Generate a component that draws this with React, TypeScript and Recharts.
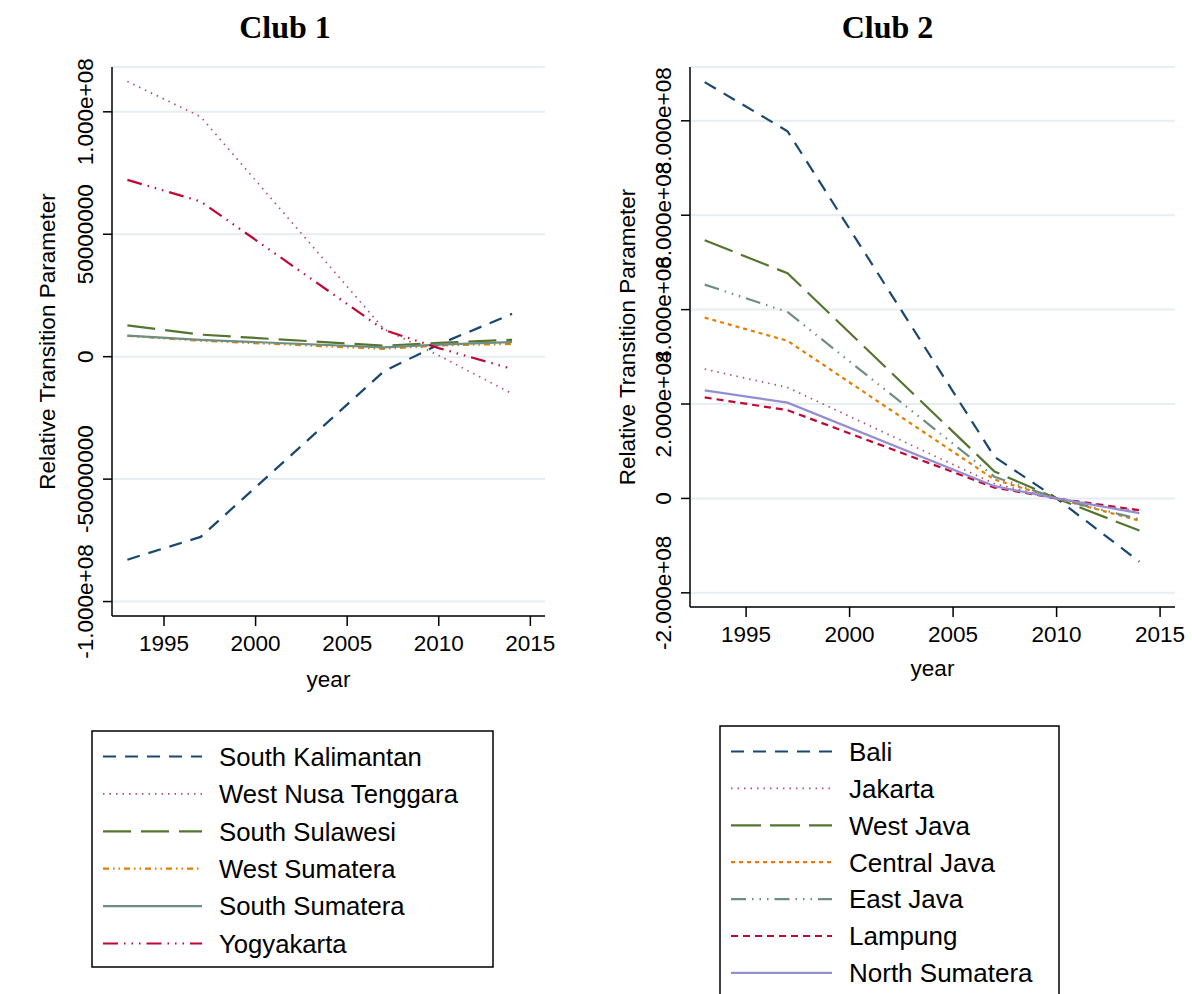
import { LineChart, Line, XAxis, YAxis, CartesianGrid } from "recharts";

const years = [1993, 1997, 2007, 2010, 2014];
const yearTicks = [1995, 2000, 2005, 2010, 2015];

// Club 1
const southKalimantan = [-82.9e6, -73.6e6, -6.0e6, 5.0e6, 17.5e6];
const westNusaTenggara = [112.4e6, 98.0e6, 11.3e6, 0.5e6, -15.1e6];
const southSulawesi = [12.8e6, 9.0e6, 4.5e6, 5.6e6, 6.9e6];
const westSumatera = [8.5e6, 6.5e6, 3.2e6, 4.6e6, 5.2e6];
const southSumatera = [8.6e6, 6.9e6, 3.8e6, 4.9e6, 6.0e6];
const yogyakarta = [72.2e6, 63.4e6, 11.0e6, 3.5e6, -5.0e6];
const club1Ticks = [-1e8, -5e7, 0, 5e7, 1e8];
const club1TickLabels = ["-1.000e+08", "-50000000", "0", "50000000", "1.000e+08"];

// Club 2
const bali = [882e6, 778e6, 88e6, 0, -134e6];
const jakarta = [274e6, 235e6, 31e6, 0, -27e6];
const westJava = [547e6, 477e6, 57e6, 0, -68e6];
const centralJava = [383e6, 334e6, 40e6, 0, -47e6];
const eastJava = [453e6, 395e6, 46e6, 0, -44e6];
const lampung = [214e6, 187e6, 23e6, 0, -25e6];
const northSumatera = [229e6, 203e6, 26e6, 0, -31e6];
const club2Ticks = [-2e8, 0, 2e8, 4e8, 6e8, 8e8];
const club2TickLabels = ["-2.000e+08", "0", "2.000e+08", "4.000e+08", "6.000e+08", "8.000e+08"];

const NAVY = "#1a476f";
const MAROON = "#b05066";
const GREEN = "#55752f";
const ORANGE = "#e37e00";
const TEAL = "#6e8e84";
const CRANBERRY = "#c10534";
const LAVENDER = "#938dd2";

const SANS = "'Liberation Sans', Arial, Helvetica, sans-serif";

type Series = { key: string; name: string; values: number[]; color: string; dash?: string; width: number };

const club1: Series[] = [
  { key: "a", name: "South Kalimantan", values: southKalimantan, color: NAVY, dash: "13 9", width: 2.2 },
  { key: "b", name: "West Nusa Tenggara", values: westNusaTenggara, color: MAROON, dash: "1.5 5", width: 1.7 },
  { key: "c", name: "South Sulawesi", values: southSulawesi, color: GREEN, dash: "28 10", width: 2.2 },
  { key: "d", name: "West Sumatera", values: westSumatera, color: ORANGE, dash: "6 4 1.5 4 1.5 4", width: 2.2 },
  { key: "e", name: "South Sumatera", values: southSumatera, color: TEAL, width: 2.2 },
  { key: "f", name: "Yogyakarta", values: yogyakarta, color: CRANBERRY, dash: "15 6 1.5 6 1.5 6 1.5 6", width: 2.2 },
];

const club2: Series[] = [
  { key: "a", name: "Bali", values: bali, color: NAVY, dash: "13 9", width: 2.2 },
  { key: "b", name: "Jakarta", values: jakarta, color: MAROON, dash: "1.5 5", width: 1.7 },
  { key: "c", name: "West Java", values: westJava, color: GREEN, dash: "30 9", width: 2.2 },
  { key: "d", name: "Central Java", values: centralJava, color: ORANGE, dash: "4 4", width: 2.2 },
  { key: "e", name: "East Java", values: eastJava, color: TEAL, dash: "15 6 1.5 6 1.5 6 1.5 6", width: 2.2 },
  { key: "f", name: "Lampung", values: lampung, color: CRANBERRY, dash: "7 5", width: 2.2 },
  { key: "g", name: "North Sumatera", values: northSumatera, color: LAVENDER, width: 2.2 },
];

const toRows = (series: Series[]) =>
  years.map((year, i) => {
    const row: Record<string, number> = { year };
    series.forEach((s) => (row[s.key] = s.values[i]));
    return row;
  });

type PanelProps = {
  left: number;
  width: number;
  height: number;
  margin: { top: number; right: number; bottom: number; left: number };
  yWidth: number;
  xDomain: [number, number];
  yDomain: [number, number];
  ticks: number[];
  tickLabels: string[];
  series: Series[];
  title: string;
  titleX: number;
  yTitleX: number;
  xTitleY: number;
};

const Panel = (p: PanelProps) => {
  const plotTop = p.margin.top;
  const plotBottom = p.height - p.margin.bottom - 80;
  const plotLeft = p.margin.left + p.yWidth;
  const plotRight = p.width - p.margin.right;

  const yTick = (props: any) => {
    const { x, y, payload } = props;
    const cx = x - 18;
    const label = p.tickLabels[p.ticks.indexOf(payload.value)];
    return (
      <text x={cx} y={y} dy="0.36em" textAnchor="middle" transform={`rotate(-90 ${cx} ${y})`}
        fontSize={22.5} fontFamily={SANS} fill="#000">
        {label}
      </text>
    );
  };

  const yTitle = () => {
    const cy = (plotTop + plotBottom) / 2;
    return (
      <text x={p.yTitleX} y={cy} dy="0.36em" textAnchor="middle" transform={`rotate(-90 ${p.yTitleX} ${cy})`}
        fontSize={22.5} fontFamily={SANS} fill="#000">
        Relative Transition Parameter
      </text>
    );
  };

  const xTitle = () => (
    <text x={(plotLeft + plotRight) / 2} y={p.xTitleY} dy="0.36em" textAnchor="middle"
      fontSize={22.5} fontFamily={SANS} fill="#000">
      year
    </text>
  );

  return (
    <div style={{ position: "absolute", left: p.left, top: 0, width: p.width, height: p.height }}>
      <div style={{ position: "absolute", left: p.titleX - 150, top: 8, width: 300, textAlign: "center",
        fontFamily: "'Liberation Serif', 'Times New Roman', serif", fontWeight: "bold", fontSize: 32, lineHeight: "38px" }}>
        {p.title}
      </div>
      <LineChart width={p.width} height={p.height} data={toRows(p.series)} margin={p.margin}>
        <CartesianGrid horizontal vertical={false} stroke="#e6eef1" strokeWidth={2} />
        <XAxis dataKey="year" type="number" domain={p.xDomain} ticks={yearTicks} interval={0}
          allowDataOverflow height={80} tickSize={10} tickMargin={9}
          axisLine={{ stroke: "#000", strokeWidth: 1.5 }} tickLine={{ stroke: "#000", strokeWidth: 1.5 }}
          tick={{ fontSize: 22.5, fontFamily: SANS, fill: "#000" }} label={xTitle} />
        <YAxis type="number" domain={p.yDomain} ticks={p.ticks} interval={0} allowDataOverflow
          width={p.yWidth} tickSize={9} tickMargin={0}
          axisLine={{ stroke: "#000", strokeWidth: 1.5 }} tickLine={{ stroke: "#000", strokeWidth: 1.5 }}
          tick={yTick} label={yTitle} />
        {p.series.map((s) => (
          <Line key={s.key} type="linear" dataKey={s.key} name={s.name} stroke={s.color}
            strokeWidth={s.width} strokeDasharray={s.dash} dot={false} activeDot={false}
            isAnimationActive={false} />
        ))}
      </LineChart>
    </div>
  );
};

type LegendProps = {
  x: number; y: number; w: number; h: number;
  rowY: number; rowGap: number; lineX1: number; lineX2: number; textX: number; fontSize: number;
  series: Series[];
};

const LegendBox = (l: LegendProps) => (
  <g>
    <rect x={l.x} y={l.y} width={l.w} height={l.h} fill="#fff" stroke="#000" strokeWidth={1.5} />
    {l.series.map((s, i) => {
      const y = l.rowY + i * l.rowGap;
      return (
        <g key={s.key}>
          <line x1={l.lineX1} x2={l.lineX2} y1={y} y2={y} stroke={s.color} strokeWidth={s.width}
            strokeDasharray={s.dash} />
          <text x={l.textX} y={y} dy="0.36em" fontSize={l.fontSize} fontFamily={SANS} fill="#000">
            {s.name}
          </text>
        </g>
      );
    })}
  </g>
);

export default function App() {
  return (
    <div style={{ position: "absolute", left: 0, top: 0, width: 1192, height: 994, background: "#fff", overflow: "hidden" }}>
      <Panel left={0} width={600} height={720} margin={{ top: 67, right: 55, bottom: 24, left: 0 }} yWidth={112}
        xDomain={[1992.16, 2015.8]} yDomain={[-105.9e6, 118.3e6]} ticks={club1Ticks} tickLabels={club1TickLabels}
        series={club1} title="Club 1" titleX={285} yTitleX={47} xTitleY={679} />
      <Panel left={600} width={592} height={720} margin={{ top: 67, right: 17, bottom: 33, left: 0 }} yWidth={90}
        xDomain={[1992.29, 2015.72]} yDomain={[-230e6, 914e6]} ticks={club2Ticks} tickLabels={club2TickLabels}
        series={club2} title="Club 2" titleX={287.5} yTitleX={27} xTitleY={668} />
      <svg width={1192} height={994} style={{ position: "absolute", left: 0, top: 0, pointerEvents: "none" }}>
        <LegendBox x={92} y={731} w={401} h={236} rowY={756.5} rowGap={37.4} lineX1={103} lineX2={202}
          textX={219} fontSize={25.7} series={club1} />
        <LegendBox x={720} y={726} w={339} h={290} rowY={751.5} rowGap={36.9} lineX1={731} lineX2={832}
          textX={849} fontSize={26} series={club2} />
      </svg>
    </div>
  );
}
